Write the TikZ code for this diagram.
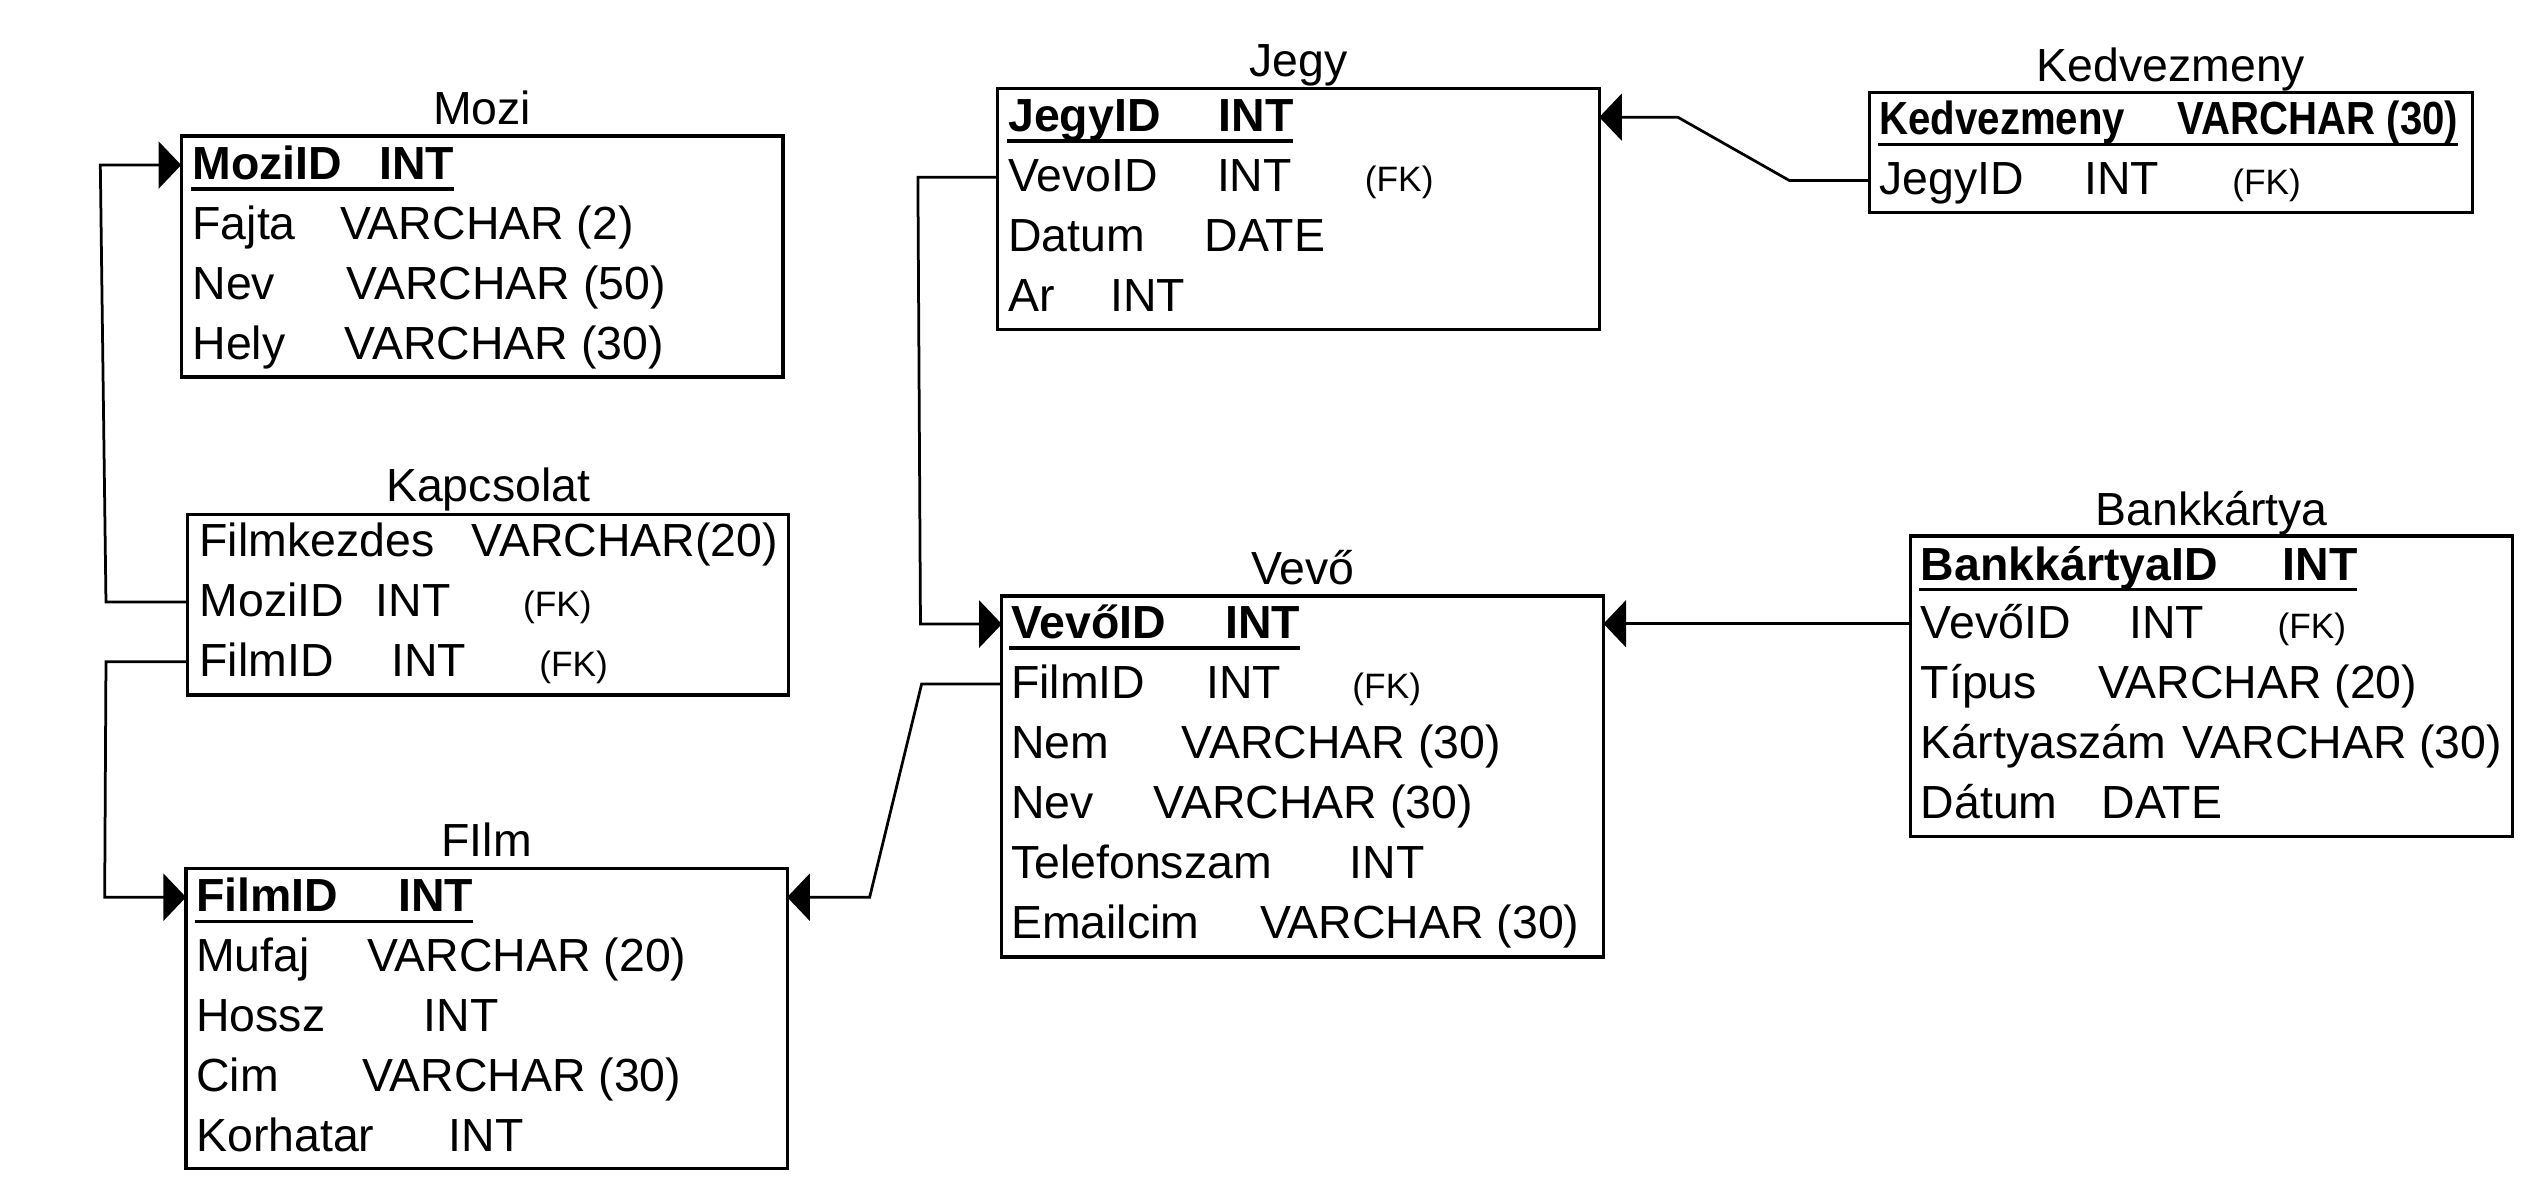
\documentclass[tikz,border=0pt]{standalone}
\usepackage{fontspec}
\usepackage{graphicx}
\setmainfont{Liberation Sans}
\usetikzlibrary{arrows.meta}
\newcommand{\cA}[2]{\makebox[#1pt][l]{#2}}
\newcommand{\fk}{{\fontsize{21.8pt}{26pt}\selectfont (FK)}}
\newcommand{\rowfont}{\fontsize{28.7pt}{34pt}\selectfont}
\tikzset{
  tbl/.style={draw, line width=2pt, anchor=north west, inner sep=0pt, outer sep=0pt},
  rw/.style={anchor=base west, inner sep=0pt, outer sep=0pt, text height=18pt, text depth=0pt, font=\rowfont},
  ttl/.style={anchor=base, inner sep=0pt, font=\rowfont},
  conn/.style={line width=1.7pt, -{Triangle[length=14pt,width=29pt]}},
  uline/.style={line width=2pt}
}
\begin{document}
\begin{tikzpicture}[x=1pt,y=-1pt]
\useasboundingbox (0,0) rectangle (1568,739.2);

% ---------- Mozi
\node[tbl, minimum width=372pt, minimum height=149pt] (mozi) at (112,84) {};
\node[ttl] (tmozi) at (298,77) {Mozi};
\node[rw] (m1) at (119,111) {\bfseries\cA{115.5}{MoziID}INT};
\node[rw] (m2) at (119,148) {\cA{91.4}{Fajta}VARCHAR (2)};
\node[rw] (m3) at (119,185) {\cA{95.4}{Nev}VARCHAR (50)};
\node[rw] (m4) at (119,222) {\cA{94}{Hely}VARCHAR (30)};
\draw[uline] ([xshift=-1pt,yshift=-5.8pt]m1.south west) -- ([yshift=-5.8pt]m1.south east);

% ---------- Kapcsolat
\node[tbl, minimum width=371.5pt, minimum height=111.6pt] (kap) at (116,318) {};
\node[ttl] (tkap) at (301.7,310) {Kapcsolat};
\node[rw] (k1) at (123.3,344) {\cA{168.3}{Filmkezdes}VARCHAR(20)};
\node[rw] (k2) at (123.3,381) {\cA{108.9}{MoziID}\cA{91.1}{INT}\fk};
\node[rw] (k3) at (123.3,418) {\cA{118.6}{FilmID}\cA{91.4}{INT}\fk};

% ---------- FIlm
\node[tbl, minimum width=371.5pt, minimum height=185.4pt] (film) at (115,536.7) {};
\node[ttl] (tfilm) at (300.8,529.5) {FIlm};
\node[rw] (f1) at (121.3,563.5) {\bfseries\cA{124.9}{FilmID}INT};
\node[rw] (f2) at (121.3,600.5) {\cA{105.8}{Mufaj}VARCHAR (20)};
\node[rw] (f3) at (121.3,637.5) {\cA{140.7}{Hossz}INT};
\node[rw] (f4) at (121.3,674.5) {\cA{102.5}{Cim}VARCHAR (30)};
\node[rw] (f5) at (121.3,711.5) {\cA{156.1}{Korhatar}INT};
\draw[uline] ([xshift=-1pt,yshift=-5.8pt]f1.south west) -- ([yshift=-5.8pt]f1.south east);

% ---------- Jegy
\node[tbl, minimum width=371.9pt, minimum height=148.9pt] (jegy) at (616.5,54.6) {};
\node[ttl] (tjegy) at (802.5,47.4) {Jegy};
\node[rw] (j1) at (623.2,81.4) {\bfseries\cA{130}{JegyID}INT};
\node[rw] (j2) at (623.2,118.5) {\cA{129}{VevoID}\cA{91.4}{INT}\fk};
\node[rw] (j3) at (623.2,155.5) {\cA{121.3}{Datum}DATE};
\node[rw] (j4) at (623.2,192.5) {\cA{63}{Ar}INT};
\draw[uline] ([xshift=-1pt,yshift=-5.8pt]j1.south west) -- ([yshift=-5.8pt]j1.south east);

% ---------- Vevő
\node[tbl, minimum width=371.8pt, minimum height=223pt] (vevo) at (619.2,368.4) {};
\node[ttl] (tvevo) at (805.1,361) {Vevő};
\node[rw] (v1) at (624.9,394.7) {\bfseries\cA{132.3}{VevőID}INT};
\node[rw] (v2) at (624.9,431.8) {\cA{120.6}{FilmID}\cA{90.4}{INT}\fk};
\node[rw] (v3) at (624.9,469) {\cA{105.5}{Nem}VARCHAR (30)};
\node[rw] (v4) at (624.9,506) {\cA{88.1}{Nev}VARCHAR (30)};
\node[rw] (v5) at (624.9,543) {\cA{209.4}{Telefonszam}INT};
\node[rw] (v6) at (624.9,580) {\cA{154.1}{Emailcim}VARCHAR (30)};
\draw[uline] ([xshift=-1pt,yshift=-5.8pt]v1.south west) -- ([yshift=-5.8pt]v1.south east);

% ---------- Kedvezmeny
\node[tbl, minimum width=372.4pt, minimum height=74.1pt] (ked) at (1155.5,57.3) {};
\node[ttl] (tked) at (1341.7,50.5) {Kedvezmeny};
\node[rw] (kd1) at (1161.7,83.4) {\scalebox{0.865}[1]{\bfseries\cA{213}{Kedvezmeny}VARCHAR (30)}};
\node[rw] (kd2) at (1161.7,120.5) {\cA{126.4}{JegyID}\cA{91.6}{INT}\fk};
\draw[uline] ([xshift=-1pt,yshift=-5.8pt]kd1.south west) -- ([yshift=-5.8pt]kd1.south east);

% ---------- Bankkártya
\node[tbl, minimum width=371.7pt, minimum height=185.8pt] (bank) at (1181,331.3) {};
\node[ttl] (tbank) at (1366.9,324.5) {Bankkártya};
\node[rw] (b1) at (1187.2,358.5) {\bfseries\cA{223.6}{BankkártyaID}INT};
\node[rw] (b2) at (1187.2,394.5) {\cA{128.8}{VevőID}\cA{91.7}{INT}\fk};
\node[rw] (b3) at (1187.2,431.6) {\cA{109.6}{Típus}VARCHAR (20)};
\node[rw] (b4) at (1187.2,468.7) {\cA{162}{Kártyaszám}VARCHAR (30)};
\node[rw] (b5) at (1187.2,505.8) {\cA{111.8}{Dátum}DATE};
\draw[uline] ([xshift=-1pt,yshift=-5.8pt]b1.south west) -- ([yshift=-5.8pt]b1.south east);

% ---------- bend columns
\coordinate (ca) at (65.5,0);
\coordinate (cb) at (62,0);
\coordinate (cc) at (64.7,0);
\coordinate (cd) at (569.6,0);
\coordinate (ce) at (537.5,0);
\coordinate (cf) at (567.3,0);
\coordinate (cg) at (568.9,0);
\coordinate (ch) at (1105.8,0);
\coordinate (ci) at (1036.9,0);

% ---------- connectors
\draw[conn] (kap.west |- k2) -- (ca |- k2) -- (cb |- m1) -- (mozi.west |- m1);
\draw[conn] (kap.west |- k3) -- (ca |- k3) -- (cc |- f1) -- (film.west |- f1);
\draw[conn] (vevo.west |- v2) -- (cd |- v2) -- (ce |- f1) -- (film.east |- f1);
\draw[conn] (jegy.west |- j2) -- (cf |- j2) -- (cg |- v1) -- (vevo.west |- v1);
\draw[conn] (ked.west |- kd2) -- (ch |- kd2) -- (ci |- j1) -- (jegy.east |- j1);
\draw[conn] (bank.west |- b2) -- (vevo.east |- b2);
\end{tikzpicture}
\end{document}
